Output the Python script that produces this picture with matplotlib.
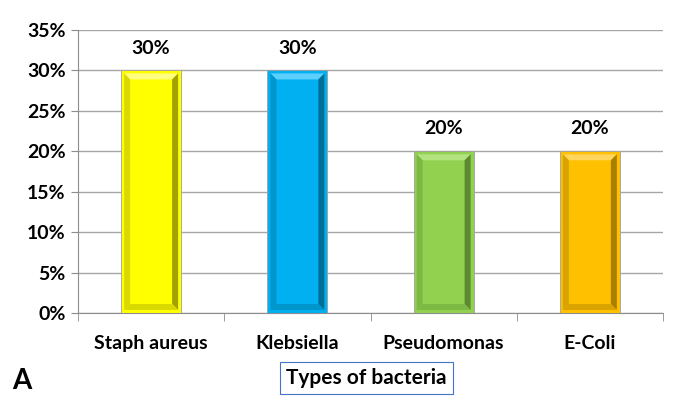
import matplotlib
matplotlib.use("Agg")
import matplotlib.pyplot as plt
from matplotlib.patches import Polygon
from matplotlib.ticker import FixedLocator, PercentFormatter
import numpy as np

categories = ["Staph aureus", "Klebsiella", "Pseudomonas", "E-Coli"]
values = [30, 30, 20, 20]
colors = ["#FFFF00", "#00B0F0", "#92D050", "#FFC000"]
light = ["#FFFF80", "#5CCFFF", "#B2E37F", "#FFD55C"]
mid = ["#D9D900", "#0096CC", "#7CB844", "#D9A300"]
dark = ["#A3A300", "#006E96", "#5B8A2F", "#A87F00"]
yticks = [0, 5, 10, 15, 20, 25, 30, 35]

plt.rcParams['font.family'] = ['Lato', 'DejaVu Sans']
fig = plt.figure(figsize=(6.74, 4.05), dpi=100)
ax = fig.add_axes([78/674, 1-313/405, 585/674, 283/405])

x = np.arange(len(categories))
bars = ax.bar(x, values, width=0.41, color=colors, edgecolor="#A0A0A0", linewidth=0.6, zorder=3)
ax.set_xlim(-0.5, len(categories) - 0.5)
ax.set_ylim(0, 35)
ax.yaxis.set_major_locator(FixedLocator(yticks))
ax.yaxis.set_major_formatter(PercentFormatter(decimals=0))
ax.grid(axis='y', color="#A6A6A6", linewidth=1.0, zorder=0)
ax.set_axisbelow(True)
for s in ['top', 'right']:
    ax.spines[s].set_visible(False)
for s in ['left', 'bottom']:
    ax.spines[s].set_color("#8C8C8C")
ax.set_xticks(x)
ax.set_xticklabels(categories, fontsize=14, fontweight='bold')
ax.tick_params(axis='x', length=0, pad=16)
ax.set_xticks(np.arange(len(categories) + 1) - 0.5, minor=True)
ax.tick_params(axis='x', which='minor', length=6, color="#8C8C8C")
ax.tick_params(axis='y', labelsize=14, length=5, color="#8C8C8C", pad=4)
for lab in ax.get_yticklabels():
    lab.set_fontweight('bold')

# bevel effect
fig.canvas.draw()
inv = ax.transData.inverted()
r = 3
b = 6
for bar, lc, mc, dc, c in zip(bars, light, mid, dark, colors):
    X0, Y0 = ax.transData.transform((bar.get_x(), 0))
    X1, Y1 = ax.transData.transform((bar.get_x() + bar.get_width(), bar.get_height()))
    x0, y0, x1, y1 = X0 + r, Y0 + r, X1 - r, Y1 - r
    faces = [
        ([(x0, y1), (x1, y1), (x1 - b, y1 - b), (x0 + b, y1 - b)], lc),
        ([(x0, y0), (x0, y1), (x0 + b, y1 - b), (x0 + b, y0 + b)], mc),
        ([(x1, y0), (x1, y1), (x1 - b, y1 - b), (x1 - b, y0 + b)], dc),
        ([(x0, y0), (x1, y0), (x1 - b, y0 + b), (x0 + b, y0 + b)], mc),
    ]
    for pts, col in faces:
        ax.add_patch(Polygon(inv.transform(pts), closed=True, facecolor=col,
                             edgecolor='none', zorder=4))
    ax.annotate(f"{bar.get_height():.0f}%", (bar.get_x() + bar.get_width() / 2, bar.get_height()),
                xytext=(0, 10), textcoords='offset points', ha='center', va='bottom',
                fontsize=14, fontweight='bold', zorder=5)

fig.text(366/674, 1-378/405, "Types of bacteria", ha='center', va='center', fontsize=15,
         fontweight='bold', bbox=dict(boxstyle='square,pad=0.3', facecolor='white',
                                      edgecolor='#4472C4', linewidth=0.8))
fig.text(12/674, 1-381/405, "A", ha='left', va='center', fontsize=20, fontweight='bold')

fig.savefig("out.png", dpi=100)
